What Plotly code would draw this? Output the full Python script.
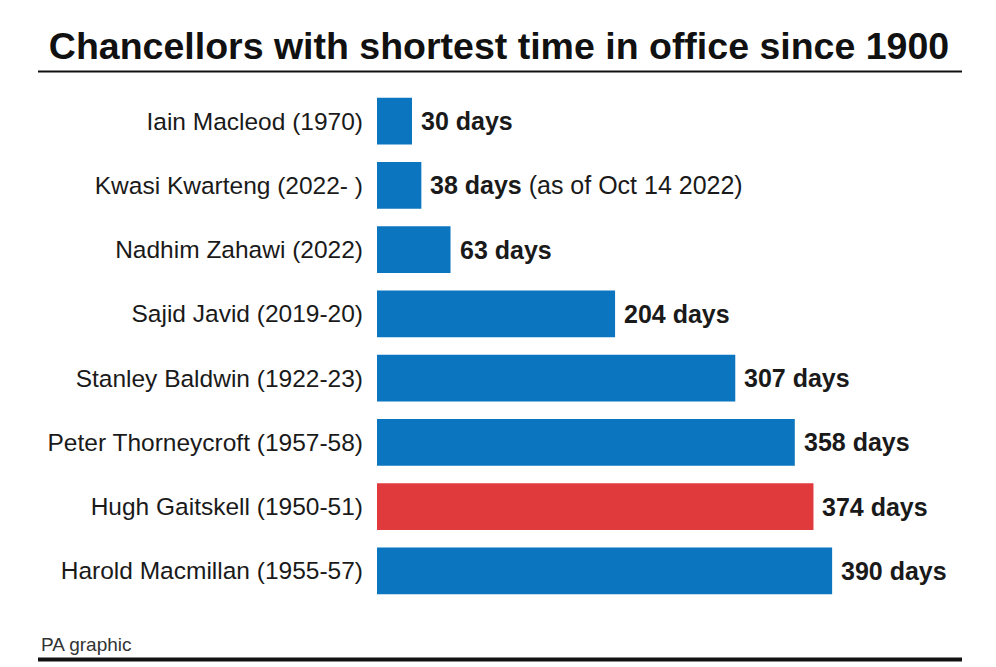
import plotly.graph_objects as go

names = ["Iain Macleod (1970)", "Kwasi Kwarteng (2022- )", "Nadhim Zahawi (2022)",
         "Sajid Javid (2019-20)", "Stanley Baldwin (1922-23)", "Peter Thorneycroft (1957-58)",
         "Hugh Gaitskell (1950-51)", "Harold Macmillan (1955-57)"]
days = [30, 38, 63, 204, 307, 358, 374, 390]
notes = ["", " (as of Oct 14 2022)", "", "", "", "", "", ""]
highlight = "Hugh Gaitskell (1950-51)"

BLUE = "#0b75bf"
RED = "#e03a3c"
colors = [RED if n == highlight else BLUE for n in names]
FONT = "Liberation Sans, Arial, sans-serif"

# page body adds an 8px margin, so the figure is a little smaller and everything is shifted
OFF = 8
W, H = 996 - OFF, 667 - OFF
ml, mr, mt, mb = 369, 34, 81.4, 63.6
pw, ph = W - ml - mr, H - mt - mb

def px_x(x):
    return (x - OFF - ml) / pw

def px_y(y):
    return (H - mb - (y - OFF)) / ph

fig = go.Figure()
fig.add_trace(go.Bar(x=days, y=names, orientation="h", marker=dict(color=colors, line=dict(width=0)),
                     hoverinfo="skip"))

for n, d, note in zip(names, days, notes):
    fig.add_annotation(x=d, y=n, xref="x", yref="y", xanchor="left", yanchor="middle",
                       xshift=7, showarrow=False,
                       text=f"<b>{d} days</b>{note}",
                       font=dict(family=FONT, size=25, color="#1a1a1a"))

fig.add_annotation(x=px_x(39), y=px_y(645), xref="paper", yref="paper", xanchor="left", yanchor="middle",
                   showarrow=False, text="PA graphic",
                   font=dict(family=FONT, size=19, color="#333333"))

fig.add_shape(type="line", xref="paper", yref="paper", x0=px_x(38), x1=px_x(962),
              y0=px_y(72), y1=px_y(72), line=dict(color="#111111", width=2))
fig.add_shape(type="line", xref="paper", yref="paper", x0=px_x(38), x1=px_x(962),
              y0=px_y(660), y1=px_y(660), line=dict(color="#111111", width=4))

fig.update_layout(
    width=W, height=H,
    margin=dict(l=ml, r=mr, t=mt, b=mb),
    paper_bgcolor="white", plot_bgcolor="white",
    bargap=0.27,
    showlegend=False,
    title=dict(text="<b>Chancellors with shortest time in office since 1900</b>",
               x=(499 - OFF) / W, xanchor="center", y=1 - (46 - OFF) / H, yanchor="middle",
               font=dict(family=FONT, size=37.5, color="#111111")),
    xaxis=dict(range=[0, pw / 1.167], visible=False, fixedrange=True),
    yaxis=dict(autorange="reversed", showgrid=False, zeroline=False, showline=False,
               ticks="", ticklabelstandoff=13,
               tickfont=dict(family=FONT, size=24.5, color="#1a1a1a")),
)

fig.write_html("out.html")
